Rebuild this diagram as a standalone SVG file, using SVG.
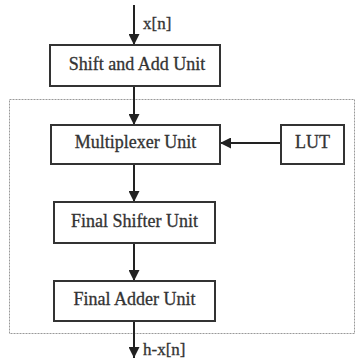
<svg xmlns="http://www.w3.org/2000/svg" width="356" height="360" viewBox="0 0 356 360">
<defs>
<marker id="ah" viewBox="0 0 10 10" refX="10" refY="5" markerWidth="11" markerHeight="11" markerUnits="userSpaceOnUse" orient="auto">
<path d="M0,0 L10,5 L0,10 z" fill="#222"/>
</marker>
<style>
.box{fill:#fff;stroke:#333;stroke-width:2}
.t{font-family:"Liberation Serif",serif;font-size:18px;fill:#333;stroke:#333;stroke-width:0.3;text-anchor:middle}
.lbl{font-family:"Liberation Serif",serif;font-size:17px;fill:#333;stroke:#333;stroke-width:0.3}
.c{stroke:#222;stroke-width:2;fill:none;marker-end:url(#ah)}
.dash{fill:none;stroke:#999;stroke-width:1;stroke-dasharray:2 1}
</style>
</defs>
<rect width="356" height="360" fill="#fff"/>
<rect class="dash" x="9.5" y="99.5" width="345" height="234"/>
<g id="connectors">
<line class="c" x1="134" y1="5" x2="134" y2="45"/>
<line class="c" x1="134" y1="86" x2="134" y2="125"/>
<line class="c" x1="281" y1="143" x2="220" y2="143"/>
<line class="c" x1="134" y1="164" x2="134" y2="202"/>
<line class="c" x1="134" y1="243" x2="134" y2="281"/>
<line class="c" x1="134" y1="321" x2="134" y2="358"/>
<text class="lbl" x="143" y="29">x[n]</text>
<text class="lbl" x="143" y="355">h-x[n]</text>
</g>
<g id="shift-add"><rect class="box" x="50" y="45" width="170" height="41"/><text class="t" x="137" y="70">Shift and Add Unit</text></g>
<g id="mux"><rect class="box" x="51" y="125" width="169" height="39"/><text class="t" x="135.5" y="148">Multiplexer Unit</text></g>
<g id="lut"><rect class="box" x="281" y="125" width="63" height="39"/><text class="t" x="312.5" y="148">LUT</text></g>
<g id="shifter"><rect class="box" x="54" y="202" width="161" height="41"/><text class="t" x="134.5" y="227">Final Shifter Unit</text></g>
<g id="adder"><rect class="box" x="54" y="281" width="161" height="40"/><text class="t" x="134.5" y="305">Final Adder Unit</text></g>
</svg>
